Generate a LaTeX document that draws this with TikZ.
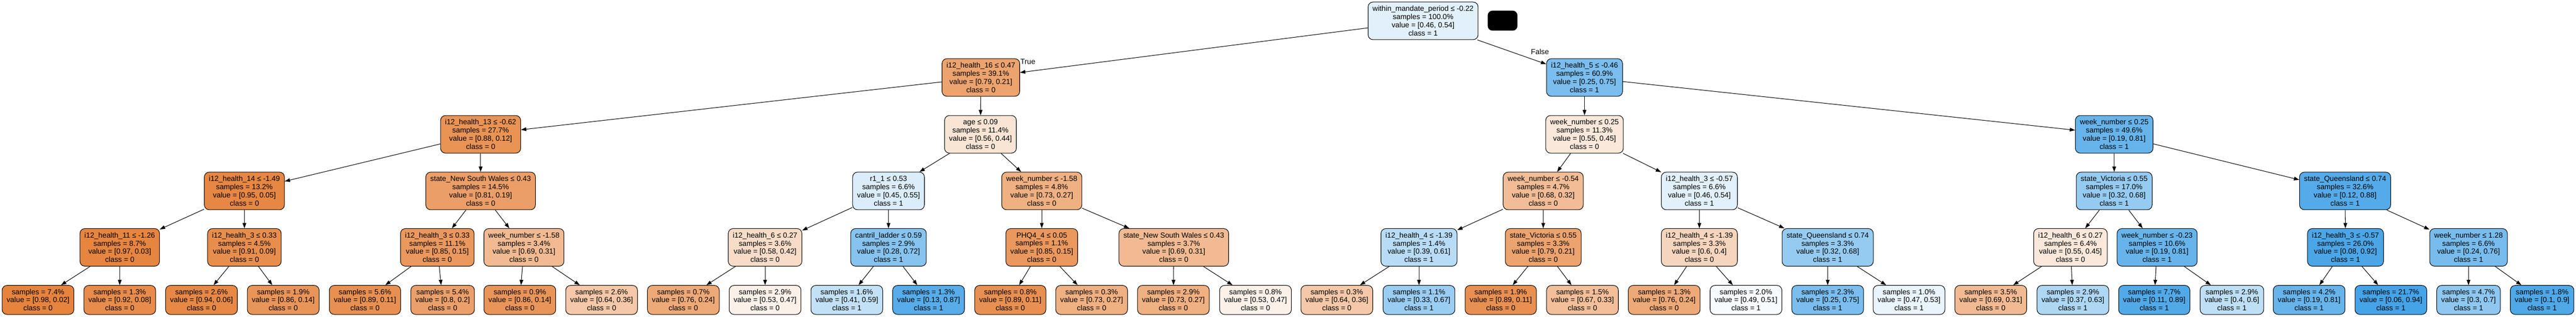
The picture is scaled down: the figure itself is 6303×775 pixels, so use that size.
\documentclass[tikz,border=0pt]{standalone}
\usepackage{fontspec}
\setmainfont{Liberation Sans}
\usepackage{tikz}
\usetikzlibrary{arrows.meta}
\definecolor{clsO}{RGB}{229,129,57}
\definecolor{clsB}{RGB}{57,157,229}
\tikzset{
  splitnode/.style={draw, line width=1.3pt, rectangle, rounded corners=12pt, align=center,
    inner xsep=11pt, inner ysep=2pt, minimum height=92pt, font=\fontsize{18}{20}\selectfont},
  leafnode/.style={splitnode, minimum height=71pt},
  branch/.style={-{Triangle[length=13pt,width=9pt]}, line width=1.3pt},
  branchlabel/.style={inner sep=0pt, font=\fontsize{18}{20}\selectfont}
}

\begin{document}
\begin{tikzpicture}[x=1pt, y=-1pt]
        \useasboundingbox (0,0) rectangle (6303,775);

        % Root split and the black box beside it
        \node[splitnode, fill=clsB!15] (root) at (3482,51) {within\_mandate\_period ≤ -0.22\\samples = 100.0\%\\value = [0.46, 0.54]\\class = 1};
        \node[fill=black, rounded corners=12pt, minimum width=73pt, minimum height=49pt, inner sep=0pt] (mask) at (3676.5,50.5) {};

        % Level 1
        \node[splitnode, fill=clsO!73] (L) at (2400,189.5) {i12\_health\_16 ≤ 0.47\\samples = 39.1\%\\value = [0.79, 0.21]\\class = 0};
        \node[splitnode, fill=clsB!67] (R) at (3877,189.5) {i12\_health\_5 ≤ -0.46\\samples = 60.9\%\\value = [0.25, 0.75]\\class = 1};

        % Level 2
        \node[splitnode, fill=clsO!86] (LL) at (1176,328.5) {i12\_health\_13 ≤ -0.62\\samples = 27.7\%\\value = [0.88, 0.12]\\class = 0};
        \node[splitnode, fill=clsO!21] (LR) at (2399,328.5) {age ≤ 0.09\\samples = 11.4\%\\value = [0.56, 0.44]\\class = 0};
        \node[splitnode, fill=clsO!18] (RL) at (3877,328.5) {week\_number ≤ 0.25\\samples = 11.3\%\\value = [0.55, 0.45]\\class = 0};
        \node[splitnode, fill=clsB!77] (RR) at (5173,328.5) {week\_number ≤ 0.25\\samples = 49.6\%\\value = [0.19, 0.81]\\class = 1};

        % Level 3
        \node[splitnode, fill=clsO!95] (LLL) at (598,467) {i12\_health\_14 ≤ -1.49\\samples = 13.2\%\\value = [0.95, 0.05]\\class = 0};
        \node[splitnode, fill=clsO!77] (LLR) at (1176,467) {state\_New South Wales ≤ 0.43\\samples = 14.5\%\\value = [0.81, 0.19]\\class = 0};
        \node[splitnode, fill=clsB!18] (LRL) at (2174,467) {r1\_1 ≤ 0.53\\samples = 6.6\%\\value = [0.45, 0.55]\\class = 1};
        \node[splitnode, fill=clsO!63] (LRR) at (2549,467) {week\_number ≤ -1.58\\samples = 4.8\%\\value = [0.73, 0.27]\\class = 0};
        \node[splitnode, fill=clsO!53] (RLL) at (3776,467) {week\_number ≤ -0.54\\samples = 4.7\%\\value = [0.68, 0.32]\\class = 0};
        \node[splitnode, fill=clsB!15] (RLR) at (4158,467) {i12\_health\_3 ≤ -0.57\\samples = 6.6\%\\value = [0.46, 0.54]\\class = 1};
        \node[splitnode, fill=clsB!53] (RRL) at (5173,467) {state\_Victoria ≤ 0.55\\samples = 17.0\%\\value = [0.32, 0.68]\\class = 1};
        \node[splitnode, fill=clsB!86] (RRR) at (5738,467) {state\_Queensland ≤ 0.74\\samples = 32.6\%\\value = [0.12, 0.88]\\class = 1};

        % Level 4
        \node[splitnode, fill=clsO!97] (LLLL) at (293,605) {i12\_health\_11 ≤ -1.26\\samples = 8.7\%\\value = [0.97, 0.03]\\class = 0};
        \node[splitnode, fill=clsO!90] (LLLR) at (598,605) {i12\_health\_3 ≤ 0.33\\samples = 4.5\%\\value = [0.91, 0.09]\\class = 0};
        \node[splitnode, fill=clsO!82] (LLRL) at (1070,605) {i12\_health\_3 ≤ 0.33\\samples = 11.1\%\\value = [0.85, 0.15]\\class = 0};
        \node[splitnode, fill=clsO!55] (LLRR) at (1282,605) {week\_number ≤ -1.58\\samples = 3.4\%\\value = [0.69, 0.31]\\class = 0};
        \node[splitnode, fill=clsO!28] (LRLL) at (1872,605) {i12\_health\_6 ≤ 0.27\\samples = 3.6\%\\value = [0.58, 0.42]\\class = 0};
        \node[splitnode, fill=clsB!61] (LRLR) at (2174,605) {cantril\_ladder ≤ 0.59\\samples = 2.9\%\\value = [0.28, 0.72]\\class = 1};
        \node[splitnode, fill=clsO!82] (LRRL) at (2549,605) {PHQ4\_4 ≤ 0.05\\samples = 1.1\%\\value = [0.85, 0.15]\\class = 0};
        \node[splitnode, fill=clsO!55] (LRRR) at (2872,605) {state\_New South Wales ≤ 0.43\\samples = 3.7\%\\value = [0.69, 0.31]\\class = 0};
        \node[splitnode, fill=clsB!36] (RLLL) at (3472,605) {i12\_health\_4 ≤ -1.39\\samples = 1.4\%\\value = [0.39, 0.61]\\class = 1};
        \node[splitnode, fill=clsO!73] (RLLR) at (3776,605) {state\_Victoria ≤ 0.55\\samples = 3.3\%\\value = [0.79, 0.21]\\class = 0};
        \node[splitnode, fill=clsO!33] (RLRL) at (4158,605) {i12\_health\_4 ≤ -1.39\\samples = 3.3\%\\value = [0.6, 0.4]\\class = 0};
        \node[splitnode, fill=clsB!53] (RLRR) at (4472,605) {state\_Queensland ≤ 0.74\\samples = 3.3\%\\value = [0.32, 0.68]\\class = 1};
        \node[splitnode, fill=clsO!18] (RRLL) at (5066,605) {i12\_health\_6 ≤ 0.27\\samples = 6.4\%\\value = [0.55, 0.45]\\class = 0};
        \node[splitnode, fill=clsB!77] (RRLR) at (5278,605) {week\_number ≤ -0.23\\samples = 10.6\%\\value = [0.19, 0.81]\\class = 1};
        \node[splitnode, fill=clsB!91] (RRRL) at (5739,605) {i12\_health\_3 ≤ -0.57\\samples = 26.0\%\\value = [0.08, 0.92]\\class = 1};
        \node[splitnode, fill=clsB!68] (RRRR) at (6040,605) {week\_number ≤ 1.28\\samples = 6.6\%\\value = [0.24, 0.76]\\class = 1};

        % Leaves
        \node[leafnode, fill=clsO!98] (LLLLL) at (93,733.5) {samples = 7.4\%\\value = [0.98, 0.02]\\class = 0};
        \node[leafnode, fill=clsO!91] (LLLLR) at (293,733.5) {samples = 1.3\%\\value = [0.92, 0.08]\\class = 0};
        \node[leafnode, fill=clsO!94] (LLLRL) at (493,733.5) {samples = 2.6\%\\value = [0.94, 0.06]\\class = 0};
        \node[leafnode, fill=clsO!84] (LLLRR) at (693,733.5) {samples = 1.9\%\\value = [0.86, 0.14]\\class = 0};
        \node[leafnode, fill=clsO!88] (LLRLL) at (893,733.5) {samples = 5.6\%\\value = [0.89, 0.11]\\class = 0};
        \node[leafnode, fill=clsO!75] (LLRLR) at (1083,733.5) {samples = 5.4\%\\value = [0.8, 0.2]\\class = 0};
        \node[leafnode, fill=clsO!84] (LLRRL) at (1272,733.5) {samples = 0.9\%\\value = [0.86, 0.14]\\class = 0};
        \node[leafnode, fill=clsO!44] (LLRRR) at (1472,733.5) {samples = 2.6\%\\value = [0.64, 0.36]\\class = 0};
        \node[leafnode, fill=clsO!68] (LRLLL) at (1672,733.5) {samples = 0.7\%\\value = [0.76, 0.24]\\class = 0};
        \node[leafnode, fill=clsO!11] (LRLLR) at (1872,733.5) {samples = 2.9\%\\value = [0.53, 0.47]\\class = 0};
        \node[leafnode, fill=clsB!31] (LRLRL) at (2072,733.5) {samples = 1.6\%\\value = [0.41, 0.59]\\class = 1};
        \node[leafnode, fill=clsB!85] (LRLRR) at (2272,733.5) {samples = 1.3\%\\value = [0.13, 0.87]\\class = 1};
        \node[leafnode, fill=clsO!88] (LRRLL) at (2472,733.5) {samples = 0.8\%\\value = [0.89, 0.11]\\class = 0};
        \node[leafnode, fill=clsO!63] (LRRLR) at (2671,733.5) {samples = 0.3\%\\value = [0.73, 0.27]\\class = 0};
        \node[leafnode, fill=clsO!63] (LRRRL) at (2871,733.5) {samples = 2.9\%\\value = [0.73, 0.27]\\class = 0};
        \node[leafnode, fill=clsO!11] (LRRRR) at (3072,733.5) {samples = 0.8\%\\value = [0.53, 0.47]\\class = 0};
        \node[leafnode, fill=clsO!44] (RLLLL) at (3271,733.5) {samples = 0.3\%\\value = [0.64, 0.36]\\class = 0};
        \node[leafnode, fill=clsB!51] (RLLLR) at (3472,733.5) {samples = 1.1\%\\value = [0.33, 0.67]\\class = 1};
        \node[leafnode, fill=clsO!88] (RLLRL) at (3672,733.5) {samples = 1.9\%\\value = [0.89, 0.11]\\class = 0};
        \node[leafnode, fill=clsO!51] (RLLRR) at (3872,733.5) {samples = 1.5\%\\value = [0.67, 0.33]\\class = 0};
        \node[leafnode, fill=clsO!68] (RLRLL) at (4072,733.5) {samples = 1.3\%\\value = [0.76, 0.24]\\class = 0};
        \node[leafnode, fill=clsB!4] (RLRLR) at (4272,733.5) {samples = 2.0\%\\value = [0.49, 0.51]\\class = 1};
        \node[leafnode, fill=clsB!67] (RLRRL) at (4472,733.5) {samples = 2.3\%\\value = [0.25, 0.75]\\class = 1};
        \node[leafnode, fill=clsB!11] (RLRRR) at (4671,733.5) {samples = 1.0\%\\value = [0.47, 0.53]\\class = 1};
        \node[leafnode, fill=clsO!55] (RRLLL) at (4871,733.5) {samples = 3.5\%\\value = [0.69, 0.31]\\class = 0};
        \node[leafnode, fill=clsB!41] (RRLLR) at (5072,733.5) {samples = 2.9\%\\value = [0.37, 0.63]\\class = 1};
        \node[leafnode, fill=clsB!88] (RRLRL) at (5271,733.5) {samples = 7.7\%\\value = [0.11, 0.89]\\class = 1};
        \node[leafnode, fill=clsB!33] (RRLRR) at (5461,733.5) {samples = 2.9\%\\value = [0.4, 0.6]\\class = 1};
        \node[leafnode, fill=clsB!77] (RRRLL) at (5650,733.5) {samples = 4.2\%\\value = [0.19, 0.81]\\class = 1};
        \node[leafnode, fill=clsB!94] (RRRLR) at (5850,733.5) {samples = 21.7\%\\value = [0.06, 0.94]\\class = 1};
        \node[leafnode, fill=clsB!57] (RRRRL) at (6040,733.5) {samples = 4.7\%\\value = [0.3, 0.7]\\class = 1};
        \node[leafnode, fill=clsB!89] (RRRRR) at (6220,733.5) {samples = 1.8\%\\value = [0.1, 0.9]\\class = 1};

        % Branches from the root, with their labels
        \draw[branch] (root) -- (L);
        \draw[branch] (root) -- (R);
        \node[branchlabel] (lblTrue) at (2515,151) {True};
        \node[branchlabel] (lblFalse) at (3768,127) {False};

        % Branches between the splits
        \draw[branch] (L) -- (LL);   \draw[branch] (L) -- (LR);
        \draw[branch] (R) -- (RL);   \draw[branch] (R) -- (RR);
        \draw[branch] (LL) -- (LLL); \draw[branch] (LL) -- (LLR);
        \draw[branch] (LR) -- (LRL); \draw[branch] (LR) -- (LRR);
        \draw[branch] (RL) -- (RLL); \draw[branch] (RL) -- (RLR);
        \draw[branch] (RR) -- (RRL); \draw[branch] (RR) -- (RRR);
        \draw[branch] (LLL) -- (LLLL); \draw[branch] (LLL) -- (LLLR);
        \draw[branch] (LLR) -- (LLRL); \draw[branch] (LLR) -- (LLRR);
        \draw[branch] (LRL) -- (LRLL); \draw[branch] (LRL) -- (LRLR);
        \draw[branch] (LRR) -- (LRRL); \draw[branch] (LRR) -- (LRRR);
        \draw[branch] (RLL) -- (RLLL); \draw[branch] (RLL) -- (RLLR);
        \draw[branch] (RLR) -- (RLRL); \draw[branch] (RLR) -- (RLRR);
        \draw[branch] (RRL) -- (RRLL); \draw[branch] (RRL) -- (RRLR);
        \draw[branch] (RRR) -- (RRRL); \draw[branch] (RRR) -- (RRRR);

        % Branches down to the leaves
        \draw[branch] (LLLL) -- (LLLLL); \draw[branch] (LLLL) -- (LLLLR);
        \draw[branch] (LLLR) -- (LLLRL); \draw[branch] (LLLR) -- (LLLRR);
        \draw[branch] (LLRL) -- (LLRLL); \draw[branch] (LLRL) -- (LLRLR);
        \draw[branch] (LLRR) -- (LLRRL); \draw[branch] (LLRR) -- (LLRRR);
        \draw[branch] (LRLL) -- (LRLLL); \draw[branch] (LRLL) -- (LRLLR);
        \draw[branch] (LRLR) -- (LRLRL); \draw[branch] (LRLR) -- (LRLRR);
        \draw[branch] (LRRL) -- (LRRLL); \draw[branch] (LRRL) -- (LRRLR);
        \draw[branch] (LRRR) -- (LRRRL); \draw[branch] (LRRR) -- (LRRRR);
        \draw[branch] (RLLL) -- (RLLLL); \draw[branch] (RLLL) -- (RLLLR);
        \draw[branch] (RLLR) -- (RLLRL); \draw[branch] (RLLR) -- (RLLRR);
        \draw[branch] (RLRL) -- (RLRLL); \draw[branch] (RLRL) -- (RLRLR);
        \draw[branch] (RLRR) -- (RLRRL); \draw[branch] (RLRR) -- (RLRRR);
        \draw[branch] (RRLL) -- (RRLLL); \draw[branch] (RRLL) -- (RRLLR);
        \draw[branch] (RRLR) -- (RRLRL); \draw[branch] (RRLR) -- (RRLRR);
        \draw[branch] (RRRL) -- (RRRLL); \draw[branch] (RRRL) -- (RRRLR);
        \draw[branch] (RRRR) -- (RRRRL); \draw[branch] (RRRR) -- (RRRRR);
    \end{tikzpicture}
\end{document}
